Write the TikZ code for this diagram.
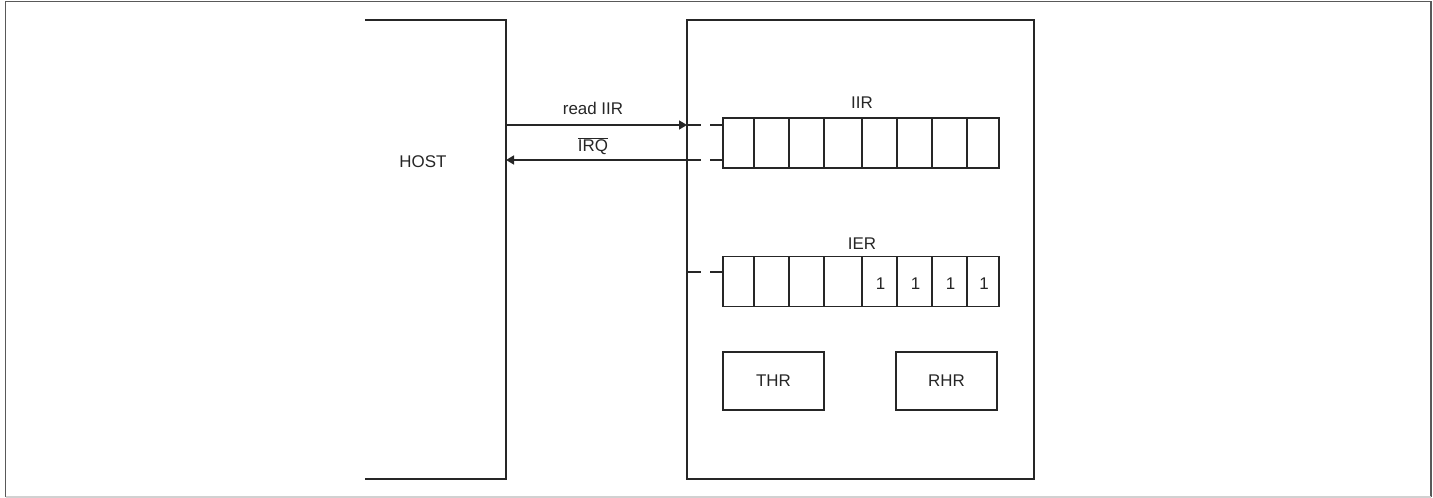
\documentclass[tikz,border=0pt]{standalone}
\usepackage{fontspec}
\setmainfont{Liberation Sans}
\usetikzlibrary{arrows.meta}
\begin{document}
\begin{tikzpicture}[x=1bp,y=-1bp,line width=1.6bp,
  lbl/.style={font=\fontsize{17}{19}\selectfont, inner sep=0pt, text=black!85},
  wire/.style={draw=black!85, line width=1.6bp},
  stub/.style={draw=black!85, line width=1.6bp, dash pattern=on 14bp off 9bp},
  tip/.style={-{Triangle[length=8bp,width=9bp]}},
  regbox/.style={draw=black!85, line width=1.6bp, inner sep=0pt, minimum height=50bp},
  hbox/.style={draw=black!85, line width=1.6bp, inner sep=0pt, minimum width=101bp, minimum height=58bp, font=\fontsize{17}{19}\selectfont, text=black!85}
]
\useasboundingbox (0,0) rectangle (1433,498);
% outer frame
\draw[draw=black!65, line width=1.2bp] (5.5,497) -- (5.5,1.5) -- (1431,1.5) -- (1431,497);
\draw[draw=black!18, line width=1.2bp] (5.5,497) -- (1431,497);
% host
\draw[wire] (365,20) -- (506,20) -- (506,479) -- (365,479);
\node[lbl] (host) at (423,162) {HOST};
% device
\node[draw=black!85, line width=1.6bp, inner sep=0pt, minimum width=347bp, minimum height=459bp] (dev) at (860.5,249.5) {};
% registers
\foreach \a/\b [count=\i] in {723/754,754/789,789/824,824/862,862/897,897/932,932/967,967/999}{
  \node[regbox, minimum width={\b-\a}] (iir\i) at ({(\a+\b)/2},143) {};
  \node[regbox, minimum width={\b-\a}] (ier\i) at ({(\a+\b)/2},281.5) {};
}
\foreach \i in {5,6,7,8}{ \node[lbl] at ([xshift=1bp,yshift=-2bp]ier\i.center) {1}; }
\node[lbl] (iirl) at (862,103) {IIR};
\node[lbl] (ierl) at (862,244) {IER};
% stubs
\coordinate (s1) at (687,125);
\coordinate (s2) at (687,160);
\coordinate (s3) at (687,272);
\draw[stub] (s1) -- (s1 -| iir1.west);
\draw[stub] (s2) -- (s2 -| iir1.west);
\draw[stub] (s3) -- (s3 -| ier1.west);
% arrows
\coordinate (h1) at (506,125);
\coordinate (h2) at (506,160);
\draw[wire, tip] (h1) -- (s1);
\draw[wire, tip] (s2) -- (h2);
\node[lbl] (rd) at (593,108) {read IIR};
\node[lbl] (irq) at (593,146) {$\overline{\hbox{IRQ}}$};
% holding registers
\node[hbox] (thr) at (773.5,381) {THR};
\node[hbox] (rhr) at (946.5,381) {RHR};
\end{tikzpicture}
\end{document}
